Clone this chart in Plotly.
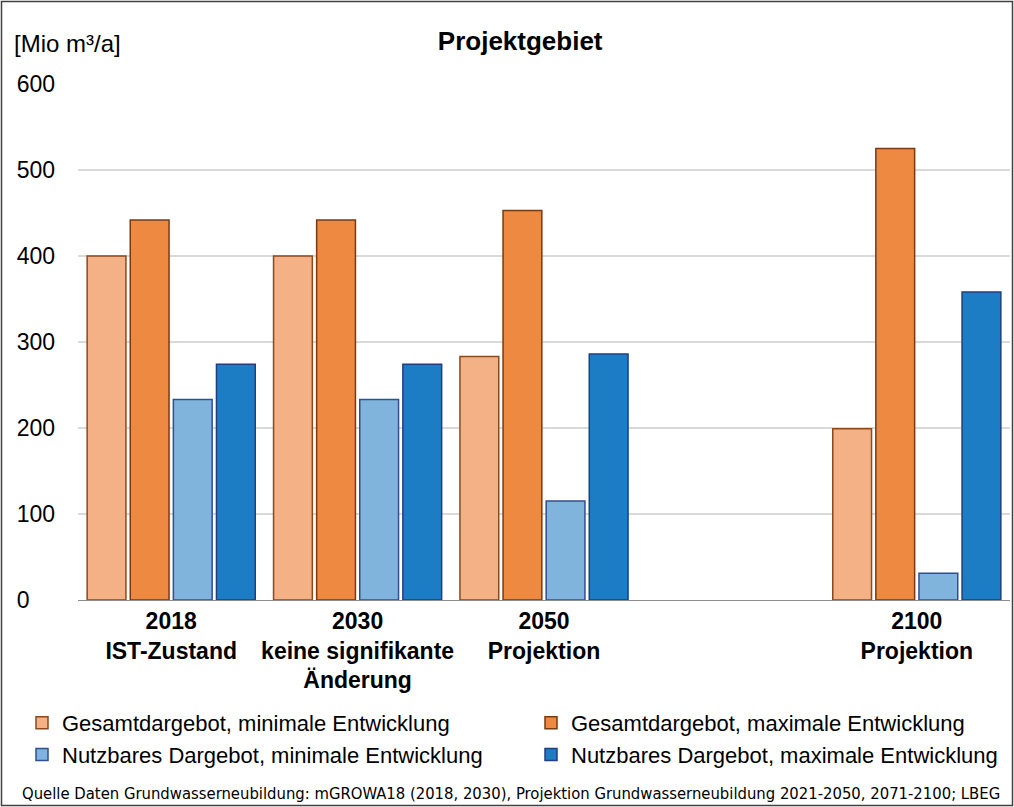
import plotly.graph_objects as go

categories = ["2018<br>IST-Zustand", "2030<br>keine signifikante<br>Änderung",
              "2050<br>Projektion", " ", "2100<br>Projektion"]
gesamt_min = [400, 400, 283, None, 199]
gesamt_max = [442, 442, 453, None, 525]
nutzbar_min = [233, 233, 115, None, 31]
nutzbar_max = [274, 274, 286, None, 358]
series_names = ["Gesamtdargebot, minimale Entwicklung",
                "Gesamtdargebot, maximale Entwicklung",
                "Nutzbares Dargebot, minimale Entwicklung",
                "Nutzbares Dargebot, maximale Entwicklung"]
y_ticks = [0, 100, 200, 300, 400, 500, 600]

fills = ["#F3B185", "#EE8942", "#80B4DC", "#1C7CC4"]
edges = ["#8A4A1C", "#7A3A10", "#2F4F8F", "#1F3F7F"]
legends = ["legend", "legend2", "legend", "legend2"]
FONT = "Liberation Sans, Arial, sans-serif"

fig = go.Figure()
for name, vals, fc, ec, lg in zip(series_names,
                                  [gesamt_min, gesamt_max, nutzbar_min, nutzbar_max],
                                  fills, edges, legends):
    fig.add_trace(go.Bar(x=categories, y=vals, name=name, legend=lg,
                         marker=dict(color=fc, line=dict(color=ec, width=1.5))))

L, R, T, B = 78, 4, 84, 207
W, H = 1014, 807
pw, ph = W - L - R, H - T - B

fig.update_layout(
    width=W, height=H,
    margin=dict(l=L, r=R, t=T, b=B, autoexpand=False),
    paper_bgcolor="white", plot_bgcolor="white",
    font=dict(family=FONT, color="#000000", size=22),
    barmode="group", bargap=0.075, bargroupgap=0.1,
    title=dict(text="<b>Projektgebiet</b>", x=0.513, xanchor="center",
               y=1 - 41 / H, yanchor="middle", font=dict(size=26)),
    xaxis=dict(type="category", categoryorder="array", categoryarray=categories,
               showline=True, linecolor="#8C8C8C", linewidth=1,
               showgrid=False, ticks="", tickangle=0, automargin=False,
               tickfont=dict(size=23, weight="bold"), fixedrange=True),
    yaxis=dict(range=[0, 600], tickvals=y_ticks, automargin=False,
               ticktext=[str(v) + "\u2007" * (3 - len(str(v))) for v in y_ticks],
               showgrid=True, gridcolor="#D9D9D9", gridwidth=1.5,
               zeroline=False, showline=False, ticks="",
               ticklabelstandoff=22, tickfont=dict(size=23)),
    legend=dict(xref="paper", yref="paper", x=(22 - L) / pw, y=-(702 - (T + ph)) / ph,
                xanchor="left", yanchor="top", orientation="v",
                font=dict(size=22), bgcolor="rgba(0,0,0,0)", tracegroupgap=0,
                itemwidth=30),
    legend2=dict(xref="paper", yref="paper", x=(531 - L) / pw, y=-(702 - (T + ph)) / ph,
                 xanchor="left", yanchor="top", orientation="v",
                 font=dict(size=22), bgcolor="rgba(0,0,0,0)", tracegroupgap=0,
                 itemwidth=30),
    showlegend=True,
)

fig.add_annotation(text="[Mio m³/a]", xref="paper", yref="paper",
                   x=(12 - L) / pw, y=1 + (T - 43) / ph, xanchor="left", yanchor="middle",
                   showarrow=False, font=dict(size=24))
fig.add_annotation(text="Quelle Daten Grundwasserneubildung: mGROWA18 (2018, 2030), "
                        "Projektion Grundwasserneubildung 2021-2050, 2071-2100; LBEG",
                   xref="paper", yref="paper",
                   x=(511 - L) / pw, y=-(793 - (T + ph)) / ph, xanchor="center", yanchor="middle",
                   showarrow=False, font=dict(size=16.5, family="Liberation Sans Narrow, DejaVu Sans Condensed, sans-serif"))
fig.add_shape(type="rect", xref="paper", yref="paper",
              x0=(1.5 - L) / pw, x1=(1012.5 - L) / pw,
              y0=-(805.5 - (T + ph)) / ph, y1=1 + (T - 1.5) / ph,
              line=dict(color="#404040", width=1.5), fillcolor="rgba(0,0,0,0)", layer="above")

fig.write_html("out.html", config={"displayModeBar": False},
               post_script="document.body.style.margin='0';document.body.style.overflow='hidden';")
